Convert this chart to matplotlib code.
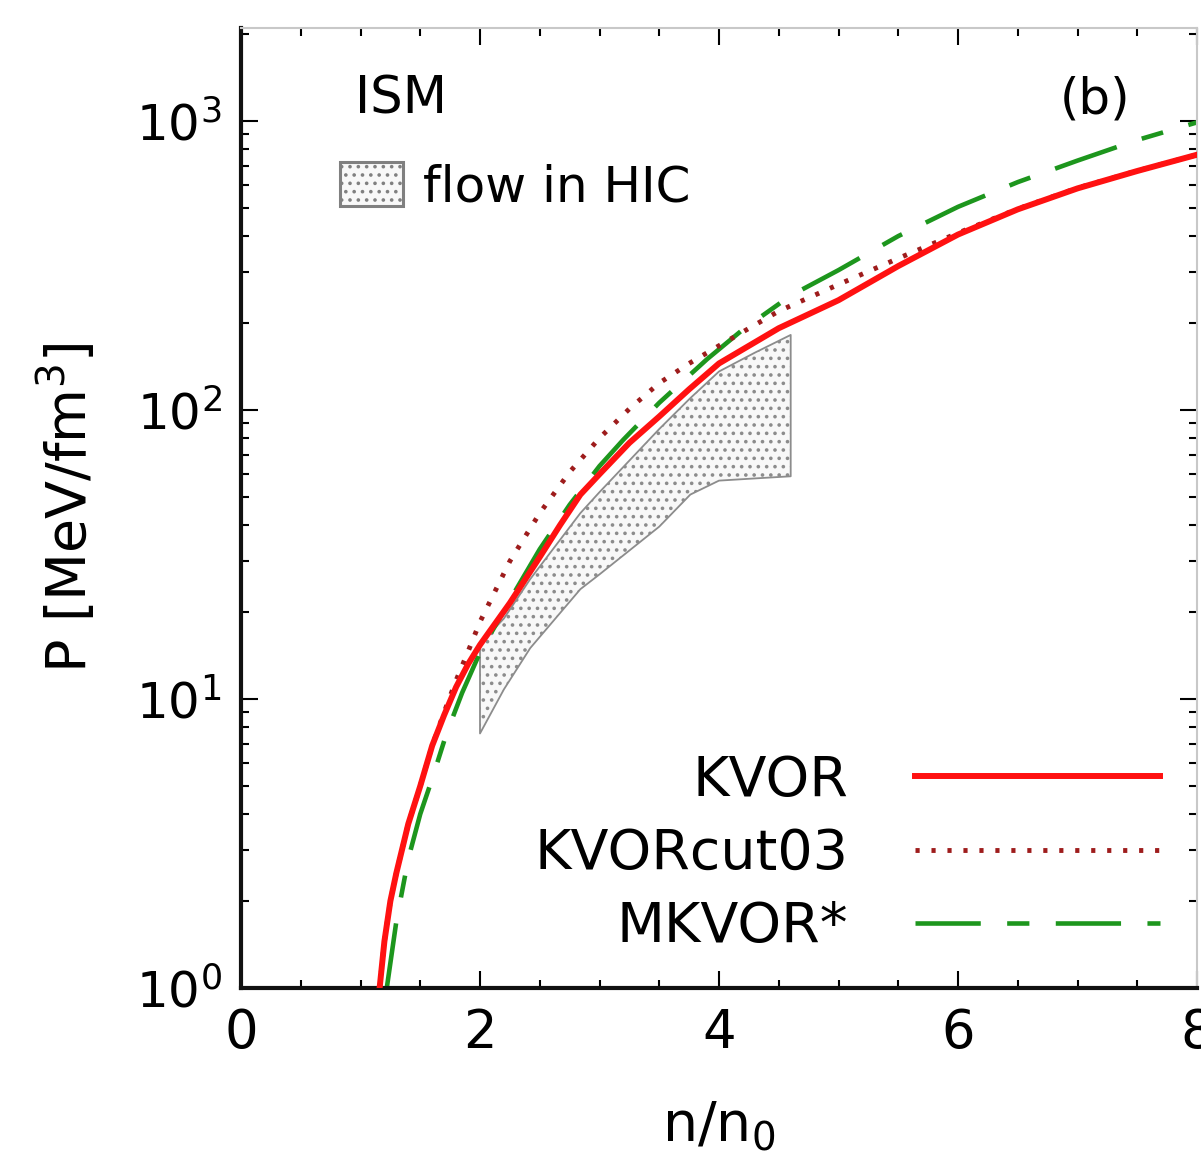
import matplotlib
matplotlib.use("Agg")
import matplotlib.pyplot as plt
from matplotlib.ticker import LogLocator, MultipleLocator, FixedLocator, NullFormatter
from matplotlib.patches import Patch

plt.rcParams['font.family'] = ['DejaVu Sans']
plt.rcParams['mathtext.fontset'] = 'dejavusans'
plt.rcParams['lines.scale_dashes'] = False
plt.rcParams['hatch.linewidth'] = 1.4

# KVOR (solid red)
n_kvor = [1.16, 1.2, 1.25, 1.3, 1.4, 1.5, 1.6, 1.7, 1.8, 1.9, 2.0, 2.1, 2.25,
          2.5, 2.67, 2.84, 3.0, 3.25, 3.5, 3.75, 4.0, 4.5, 5.0, 5.5, 6.0,
          6.5, 7.0, 7.5, 8.0]
p_kvor = [1.0, 1.45, 2.0, 2.5, 3.7, 5.0, 6.9, 8.8, 11.0, 13.2, 15.4, 17.6, 21.5,
          31, 40, 51, 60, 77, 95, 118, 145, 192, 240, 315, 405,
          495, 585, 672, 765]

# KVORcut03 (dotted dark red)
n_cut = [1.16, 1.2, 1.25, 1.3, 1.4, 1.5, 1.6, 1.7, 1.8, 1.9, 2.0, 2.25, 2.5,
         2.75, 3.0, 3.25, 3.5, 3.75, 4.0, 4.5, 5.0, 5.5, 6.0, 6.5, 7.0,
         7.5, 8.0]
p_cut = [1.0, 1.45, 2.0, 2.5, 3.7, 5.0, 6.9, 9.0, 11.6, 14.6, 18.5, 30, 44,
         61, 80, 101, 124, 145, 167, 220, 272, 335, 410, 497, 587,
         673, 765]

# MKVOR* (dashed green)
n_mk = [1.22, 1.3, 1.4, 1.5, 1.6, 1.72, 1.85, 2.0, 2.25, 2.5, 2.75, 3.0,
        3.2, 3.5, 3.9, 4.2, 4.6, 5.0, 5.5, 6.0, 6.5, 7.0, 7.5, 8.0]
p_mk = [1.0, 1.7, 2.8, 4.0, 5.3, 7.6, 10.5, 14.5, 22, 33, 47, 64,
        79, 106, 150, 190, 249, 305, 400, 505, 615, 730, 860, 990]

# flow constraint from heavy-ion collisions
n_flow = [2.0, 2.2, 2.42, 2.84, 3.0, 3.5, 3.76, 4.0, 4.3, 4.6]
p_flow_lo = [7.6, 10.8, 15, 24, 27, 39.5, 51, 57, 58, 59]
p_flow_hi = [15.5, 19, 26, 44, 52, 86, 110, 136, 158, 182]

fig = plt.figure(figsize=(12.01, 11.56), dpi=100)
ax = fig.add_axes([241/1201, 1 - 988/1156, 956/1201, 960/1156])

ax.fill_between(n_flow, p_flow_lo, p_flow_hi, facecolor='#f8f8f8',
                edgecolor='#8c8c8c', hatch='..', linewidth=1.3, zorder=1)

ax.plot(n_mk, p_mk, color='#1d961d', lw=3.3, dashes=(47, 19, 16, 19),
        label='MKVOR*', zorder=2)
ax.plot(n_cut, p_cut, color='#9e1c1c', lw=3.5, dashes=(3, 8.5),
        label='KVORcut03', zorder=3)
ax.plot(n_kvor, p_kvor, color='#ff1111', lw=4.3, label='KVOR', zorder=4)

ax.set_yscale('log')
ax.set_xlim(0, 8)
ax.set_ylim(1, 2100)

ax.xaxis.set_major_locator(FixedLocator([0, 2, 4, 6, 8]))
ax.xaxis.set_minor_locator(MultipleLocator(0.5))
ax.yaxis.set_major_locator(FixedLocator([1, 10, 100, 1000]))
ax.yaxis.set_minor_locator(LogLocator(base=10, subs=range(2, 10)))
ax.yaxis.set_minor_formatter(NullFormatter())
ax.set_yticklabels([r'$10^{0}$', r'$10^{1}$', r'$10^{2}$', r'$10^{3}$'])

ax.tick_params(which='both', direction='in', top=True, right=True, width=1.5)
ax.tick_params(which='major', length=12, labelsize=38, pad=14)
ax.tick_params(which='minor', length=6)
ax.tick_params(axis='y', labelsize=36)

for s in ['left', 'bottom']:
    ax.spines[s].set_linewidth(3)
    ax.spines[s].set_color('#111111')
for s in ['top', 'right']:
    ax.spines[s].set_linewidth(1.5)
    ax.spines[s].set_color('#c8c8c8')

ax.set_xlabel(r'n/n$_0$', fontsize=40, labelpad=28)
ax.set_ylabel(r'P [MeV/fm$^3$]', fontsize=40, labelpad=26)

ax.text(0.119, 0.925, 'ISM', transform=ax.transAxes, fontsize=37,
        va='center', ha='left')
ax.text(0.93, 0.925, '(b)', transform=ax.transAxes, fontsize=36,
        va='center', ha='right')

patch = Patch(facecolor='#f8f8f8', edgecolor='#808080', hatch='..', lw=2.2)
leg1 = ax.legend([patch], ['flow in HIC'], loc='upper left',
                 bbox_to_anchor=(0.1036, 0.86), frameon=False, fontsize=36,
                 handlelength=1.25, handleheight=0.95, handletextpad=0.4,
                 borderpad=0, borderaxespad=0)
ax.add_artist(leg1)

handles, labels = ax.get_legend_handles_labels()
order = [2, 1, 0]
ax.legend([handles[i] for i in order], [labels[i] for i in order],
          loc='lower right', bbox_to_anchor=(0.961, 0.035), frameon=False,
          fontsize=40, markerfirst=False, handlelength=4.4,
          handletextpad=1.2, labelspacing=0.35, borderpad=0, borderaxespad=0)

fig.savefig('out.png', dpi=100)
